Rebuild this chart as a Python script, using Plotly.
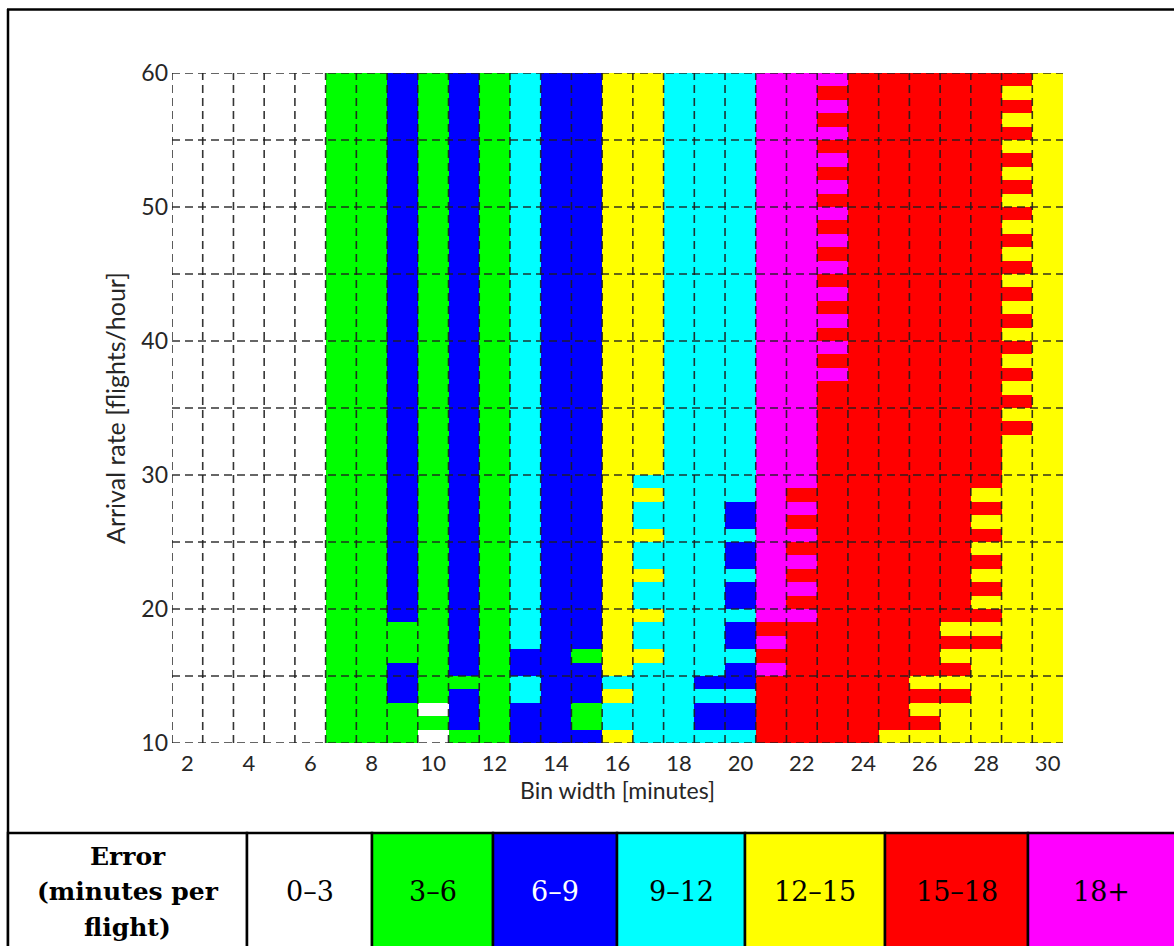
import plotly.graph_objects as go

# Bin widths (minutes), one heatmap column each
BIN_WIDTH = [2, 3, 4, 5, 6, 7, 8, 9, 10, 11, 12, 13, 14, 15, 16,
             17, 18, 19, 20, 21, 22, 23, 24, 25, 26, 27, 28, 29, 30]
# Arrival-rate row boundaries (flights/hour)
ARRIVAL_EDGES = list(range(10, 61))
X_TICKS = [2, 4, 6, 8, 10, 12, 14, 16, 18, 20, 22, 24, 26, 28, 30]
Y_TICKS = [10, 20, 30, 40, 50, 60]
Y_GRID = [10, 15, 20, 25, 30, 35, 40, 45, 50, 55, 60]

ERROR_LABELS = ["0\u20133", "3\u20136", "6\u20139", "9\u201312", "12\u201315", "15\u201318", "18+"]
ERROR_COLORS = ["#FFFFFF", "#00FF00", "#0000FF", "#00FFFF", "#FFFF00", "#FF0000", "#FF00FF"]
ERROR_TEXT_COLORS = ["#000000", "#000000", "#FFFFFF", "#000000", "#000000", "#000000", "#000000"]

# Error class for each bin width, as runs of (class, rows) going up from 10 flights/hour
W, G, B, C, Y, R, M = 0, 1, 2, 3, 4, 5, 6
COLUMN_RUNS = {
    2: [(W, 50)],
    3: [(W, 50)],
    4: [(W, 50)],
    5: [(W, 50)],
    6: [(W, 50)],
    7: [(G, 50)],
    8: [(G, 50)],
    9: [(G, 3), (B, 3), (G, 3), (B, 41)],
    10: [(W, 1), (G, 1), (W, 1), (G, 47)],
    11: [(G, 1), (B, 3), (G, 1), (B, 45)],
    12: [(G, 50)],
    13: [(B, 3), (C, 2), (B, 2), (C, 43)],
    14: [(B, 50)],
    15: [(B, 1), (G, 2), (B, 3), (G, 1), (B, 43)],
    16: [(Y, 1), (C, 2), (Y, 1), (C, 1), (Y, 45)],
    17: [(C, 6), (Y, 1), (C, 2), (Y, 1), (C, 2), (Y, 1), (C, 2), (Y, 1),
         (C, 2), (Y, 1), (C, 1), (Y, 30)],
    18: [(C, 50)],
    19: [(C, 1), (B, 2), (C, 1), (B, 1), (C, 45)],
    20: [(C, 1), (B, 2), (C, 1), (B, 2), (C, 1), (B, 2), (C, 1), (B, 2),
         (C, 1), (B, 2), (C, 1), (B, 2), (C, 32)],
    21: [(R, 5), (M, 1), (R, 1), (M, 1), (R, 1), (M, 41)],
    22: [(R, 9), (M, 1), (R, 1), (M, 1), (R, 1), (M, 1), (R, 1), (M, 1),
         (R, 1), (M, 1), (R, 1), (M, 31)],
    23: [(R, 27), (M, 1), (R, 1), (M, 1), (R, 1), (M, 1), (R, 1), (M, 1),
         (R, 1), (M, 1), (R, 1), (M, 1), (R, 1), (M, 1), (R, 1), (M, 1),
         (R, 1), (M, 1), (R, 1), (M, 1), (R, 1), (M, 1), (R, 1), (M, 1)],
    24: [(R, 50)],
    25: [(Y, 1), (R, 49)],
    26: [(Y, 1), (R, 1), (Y, 1), (R, 1), (Y, 1), (R, 45)],
    27: [(Y, 3), (R, 1), (Y, 1), (R, 1), (Y, 1), (R, 1), (Y, 1), (R, 41)],
    28: [(Y, 7), (R, 1), (Y, 1), (R, 1), (Y, 1), (R, 1), (Y, 1), (R, 1),
         (Y, 1), (R, 1), (Y, 1), (R, 1), (Y, 1), (R, 31)],
    29: [(Y, 23), (R, 1), (Y, 1), (R, 1), (Y, 1), (R, 1), (Y, 1), (R, 1),
         (Y, 1), (R, 1), (Y, 1), (R, 1), (Y, 1), (R, 1), (Y, 1), (R, 1),
         (Y, 1), (R, 1), (Y, 1), (R, 1), (Y, 1), (R, 1), (Y, 1), (R, 1),
         (Y, 1), (R, 1), (Y, 1), (R, 1)],
    30: [(Y, 50)],
}


def expand(runs):
    col = []
    for cls, n in runs:
        col.extend([cls] * n)
    return col


columns = [expand(COLUMN_RUNS[b]) for b in BIN_WIDTH]
n_rows = len(ARRIVAL_EDGES) - 1
z = [[columns[j][i] for j in range(len(BIN_WIDTH))] for i in range(n_rows)]

n_cls = len(ERROR_COLORS)
colorscale = []
for i, c in enumerate(ERROR_COLORS):
    colorscale.append([i / n_cls, c])
    colorscale.append([(i + 1) / n_cls, c])

# Figure geometry (pixels)
FIG_W, FIG_H = 1174, 946
M_L, M_R, M_T, M_B = 172, 111, 73, 203
PLOT_W = FIG_W - M_L - M_R
PLOT_H = FIG_H - M_T - M_B


def px_x(px):
    return (px - M_L) / PLOT_W


def px_y(py):
    return (FIG_H - M_B - py) / PLOT_H


fig = go.Figure(go.Heatmap(
    x=BIN_WIDTH, y=ARRIVAL_EDGES, z=z,
    colorscale=colorscale, zmin=-0.5, zmax=n_cls - 0.5,
    showscale=False, hoverinfo="skip", xgap=0, ygap=0,
))

shapes = []
grid_line = dict(color="rgba(30,30,30,0.9)", width=1.6, dash="8px,5px")
x_lo, x_hi = BIN_WIDTH[0] - 0.5, BIN_WIDTH[-1] + 0.5
for b in BIN_WIDTH:
    shapes.append(dict(type="line", xref="x", yref="y", x0=b - 0.5, x1=b - 0.5,
                       y0=ARRIVAL_EDGES[0], y1=ARRIVAL_EDGES[-1], line=grid_line, layer="above"))
for yv in Y_GRID:
    shapes.append(dict(type="line", xref="x", yref="y", x0=x_lo, x1=x_hi,
                       y0=yv, y1=yv, line=grid_line, layer="above"))

# Outer frame (left and top)
frame = dict(color="black", width=2.5)
shapes.append(dict(type="line", xref="paper", yref="paper", x0=px_x(8), x1=px_x(8),
                   y0=px_y(9), y1=px_y(FIG_H + 5), line=frame, layer="above"))
shapes.append(dict(type="line", xref="paper", yref="paper", x0=px_x(7), x1=px_x(FIG_W + 5),
                   y0=px_y(9.5), y1=px_y(9.5), line=frame, layer="above"))

# Colour key table below the chart
TABLE_TOP = 833
cell_edges = [8, 247, 372, 493, 617, 745, 885, 1028, FIG_W + 5]
annotations = []
for k in range(len(cell_edges) - 1):
    fill = "#FFFFFF" if k == 0 else ERROR_COLORS[k - 1]
    shapes.append(dict(type="rect", xref="paper", yref="paper",
                       x0=px_x(cell_edges[k]), x1=px_x(cell_edges[k + 1]),
                       y0=px_y(FIG_H + 5), y1=px_y(TABLE_TOP),
                       fillcolor=fill, line=dict(color="black", width=2.5), layer="above"))
    if k > 0:
        annotations.append(dict(
            xref="paper", yref="paper", showarrow=False,
            x=px_x((cell_edges[k] + min(cell_edges[k + 1], FIG_W)) / 2), y=px_y(891),
            xanchor="center", yanchor="middle", text=ERROR_LABELS[k - 1],
            font=dict(family="DejaVu Serif", size=27, color=ERROR_TEXT_COLORS[k - 1]),
        ))

header_lines = ["Error", "(minutes per", "flight)"]
header_y = [856, 892, 927]
for txt, yy in zip(header_lines, header_y):
    annotations.append(dict(
        xref="paper", yref="paper", showarrow=False,
        x=px_x((cell_edges[0] + cell_edges[1]) / 2), y=px_y(yy),
        xanchor="center", yanchor="middle", text="<b>" + txt + "</b>",
        font=dict(family="DejaVu Serif", size=25, color="black"),
    ))

tick_color = "#262626"
fig.update_layout(
    width=FIG_W, height=FIG_H,
    margin=dict(l=M_L, r=M_R, t=M_T, b=M_B, pad=0),
    paper_bgcolor="white", plot_bgcolor="white",
    shapes=shapes, annotations=annotations,
    xaxis=dict(range=[x_lo, x_hi], tickmode="array", tickvals=X_TICKS,
               showgrid=False, zeroline=False, showline=False, ticks="",
               tickfont=dict(family="Lato", size=22, color=tick_color), ticklabelstandoff=5,
               title=dict(text="Bin width [minutes]",
                          font=dict(family="Lato", size=23, color=tick_color), standoff=2)),
    yaxis=dict(range=[ARRIVAL_EDGES[0], ARRIVAL_EDGES[-1]], tickmode="array", tickvals=Y_TICKS,
               showgrid=False, zeroline=False, showline=False, ticks="",
               tickfont=dict(family="Lato", size=23, color=tick_color), ticklabelstandoff=3,
               title=dict(text="Arrival rate [flights/hour]",
                          font=dict(family="Lato", size=25, color=tick_color), standoff=8)),
)

fig.write_html("out.html")
